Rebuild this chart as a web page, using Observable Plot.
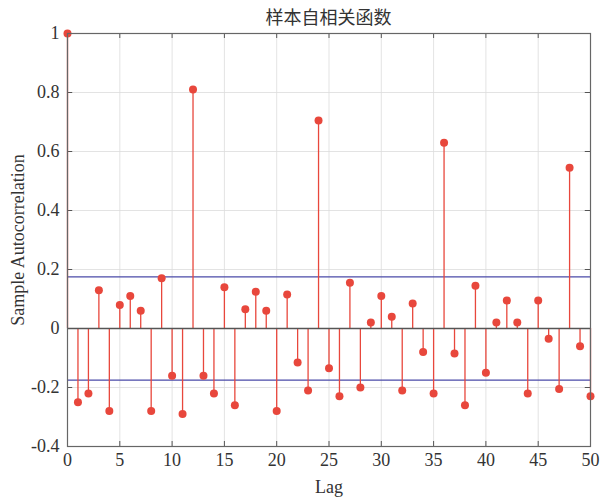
<!DOCTYPE html>
<html><head><meta charset="utf-8">
<script src="https://cdn.jsdelivr.net/npm/d3@7"></script>
<script src="https://cdn.jsdelivr.net/npm/@observablehq/plot@0.6"></script>
<style>
body{margin:0;background:#fff;}
#chart{position:relative;width:601px;height:498px;}
#title{position:absolute;left:67px;width:523px;top:3px;text-align:center;font-family:"Noto Sans CJK SC";font-size:18px;color:#333;}
</style>
</head><body>
<div id="chart"><div id="title">样本自相关函数</div></div>
<script>
const lags = d3.range(0, 51);
const acf = [1, -0.25, -0.22, 0.13, -0.28, 0.08, 0.11, 0.06, -0.28, 0.17,
  -0.16, -0.29, 0.81, -0.16, -0.22, 0.14, -0.26, 0.065, 0.125, 0.06,
  -0.28, 0.115, -0.115, -0.21, 0.705, -0.135, -0.23, 0.155, -0.20, 0.02,
  0.11, 0.04, -0.21, 0.085, -0.08, -0.22, 0.63, -0.085, -0.26, 0.145,
  -0.15, 0.02, 0.095, 0.02, -0.22, 0.095, -0.035, -0.205, 0.545, -0.06, -0.23];
const bound = 0.175;
const xTicks = [0, 5, 10, 15, 20, 25, 30, 35, 40, 45, 50];
const yTicks = [-0.4, -0.2, 0, 0.2, 0.4, 0.6, 0.8, 1];
const data = lags.map((l, i) => ({lag: l, r: acf[i]}));
const red = "#e8473c";
const plot = Plot.plot({
  width: 601, height: 498,
  marginLeft: 67, marginRight: 11, marginTop: 33, marginBottom: 52,
  style: {fontFamily: "Liberation Serif", fontSize: "18px", color: "#333", background: "#fff"},
  x: {domain: [0, 50]},
  y: {domain: [-0.4, 1]},
  marks: [
    Plot.gridX(xTicks, {stroke: "#dcdcdc", strokeOpacity: 1, strokeWidth: 0.8}),
    Plot.gridY(yTicks, {stroke: "#dcdcdc", strokeOpacity: 1, strokeWidth: 0.8}),
    Plot.ruleX(xTicks, {y1: -0.4, y2: -0.383, stroke: "#555"}),
    Plot.ruleX(xTicks, {y1: 1, y2: 0.983, stroke: "#555"}),
    Plot.ruleY(yTicks, {x1: 0, x2: 0.5, stroke: "#555"}),
    Plot.ruleY(yTicks, {x1: 50, x2: 49.5, stroke: "#555"}),
    Plot.ruleY([bound, -bound], {stroke: "#4a4aa8", strokeWidth: 1.3}),
    Plot.ruleX(data, {x: "lag", y1: 0, y2: "r", stroke: red, strokeWidth: 1.3}),
    Plot.ruleY([0], {stroke: "#555", strokeWidth: 1.3}),
    Plot.dot(data, {x: "lag", y: "r", r: 4, fill: red, stroke: "none"}),
    Plot.frame({stroke: "#666", strokeWidth: 1.2}),
    Plot.axisX(xTicks, {tickSize: 0, tickPadding: 7, label: "Lag", labelAnchor: "center", labelArrow: "none", labelOffset: 46, fontSize: 18, fontFamily: "Liberation Serif"}),
    Plot.axisY(yTicks, {tickSize: 0, tickPadding: 8, label: "Sample Autocorrelation", labelAnchor: "center", labelArrow: "none", labelOffset: 56, fontSize: 18, fontFamily: "Liberation Serif", tickFormat: d => String(d)})
  ]
});
document.getElementById("chart").appendChild(plot);
</script>
</body></html>
